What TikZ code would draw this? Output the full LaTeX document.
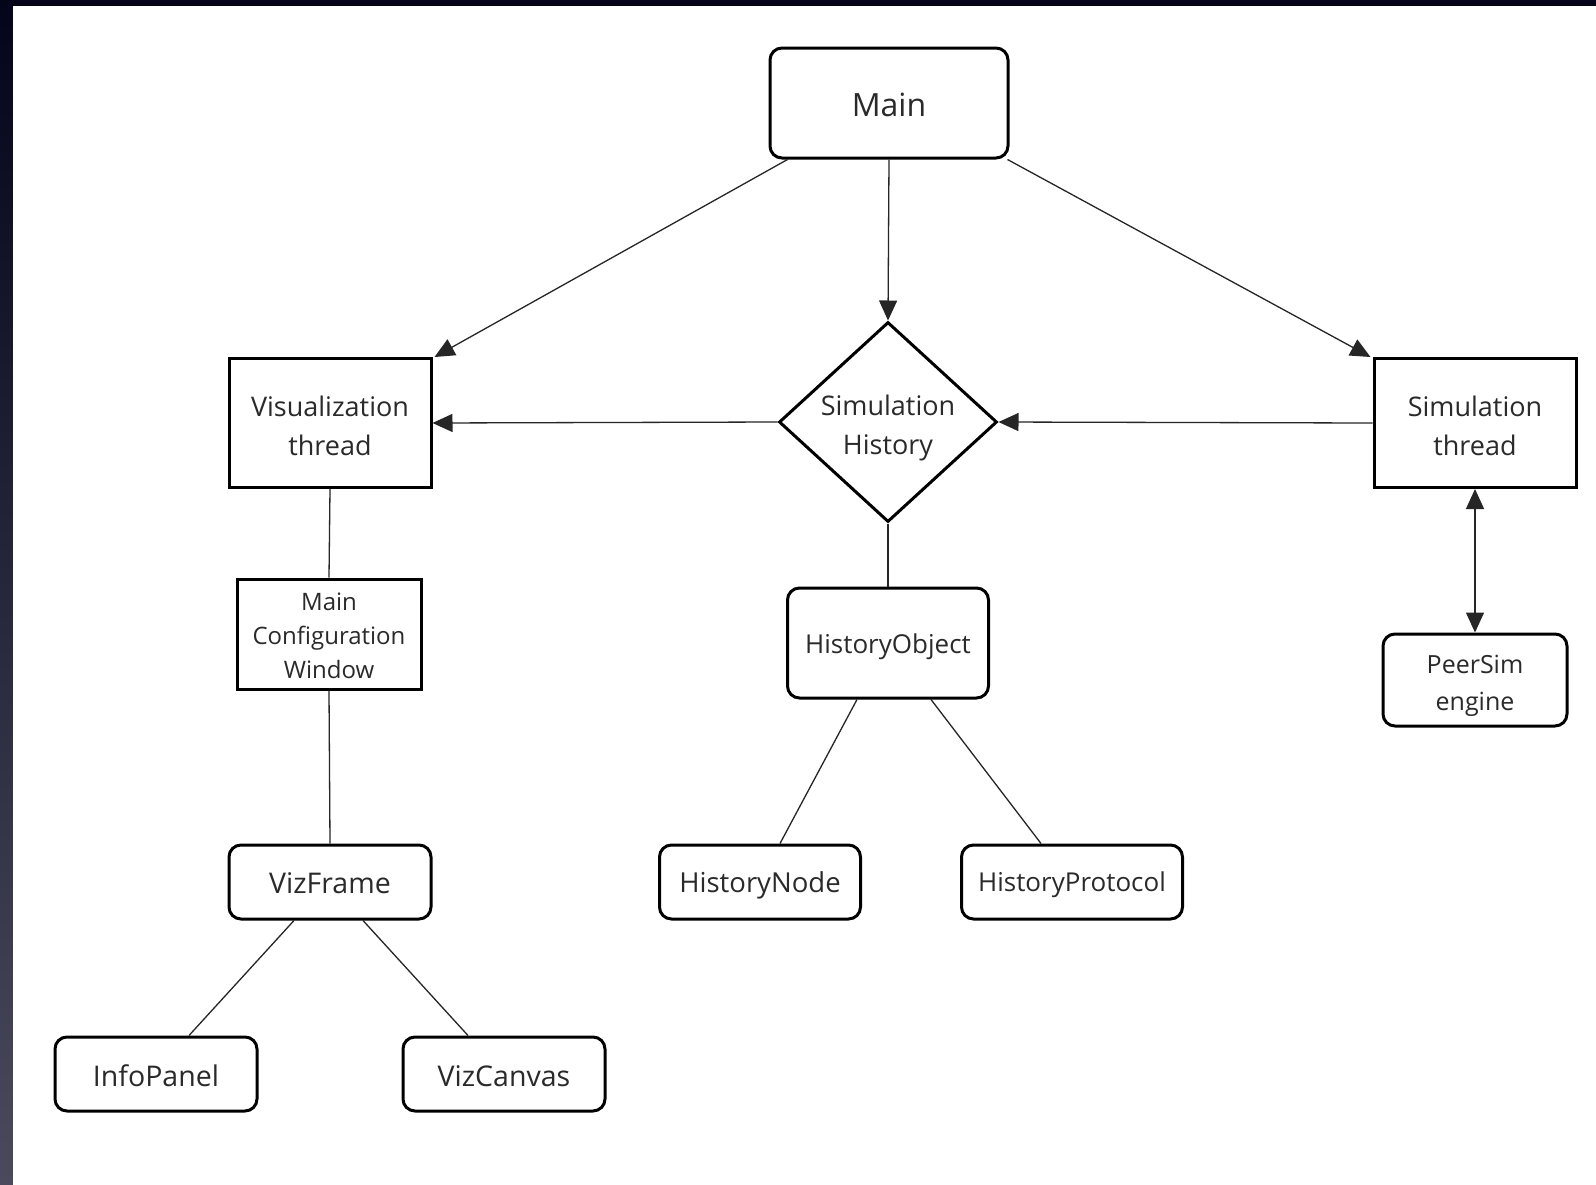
\documentclass[tikz,border=0pt]{standalone}
\usepackage{fontspec}
\setmainfont{Open Sans}
\usetikzlibrary{shapes.geometric,arrows.meta}
\definecolor{framedark}{HTML}{04041A}
\definecolor{framelow}{HTML}{4A4A5C}
\definecolor{txt}{HTML}{2A2A2A}
\newcommand{\topstrut}[1]{\rule{0pt}{#1}}
\begin{document}
\begin{tikzpicture}[x=1pt,y=-1pt,
  rbox/.style={draw=black,line width=3pt,rounded corners=12pt,fill=white,inner sep=0pt,align=center,text=txt},
  sbox/.style={draw=black,line width=3pt,fill=white,inner sep=0pt,align=center,text=txt},
  dbox/.style={draw=black,line width=3pt,diamond,fill=white,inner xsep=0pt,inner ysep=-10pt,align=center,text=txt},
  conn/.style={line width=1.3pt,draw=black!85},
  arr/.style={conn,-{Triangle[length=20pt,width=18pt]}},
  darr/.style={conn,{Triangle[length=20pt,width=18pt]}-{Triangle[length=20pt,width=18pt]}}
]
\useasboundingbox (0,0) rectangle (1596,1184);
\shade[top color=framedark,bottom color=framelow] (0,0) rectangle (1596,1184);
\fill[framedark] (0,0) rectangle (1596,6);
\fill[white] (13,6) rectangle (1610,1200);

\node[rbox,minimum width=238pt,minimum height=110pt,font=\fontsize{32}{38}\selectfont] (main) at (889,103) {\topstrut{0.86em}Main};
\node[sbox,minimum width=202pt,minimum height=129pt,font=\fontsize{27}{39}\selectfont] (vt) at (330,423) {\topstrut{1em}Visualization\\thread};
\node[dbox,minimum width=218pt,minimum height=200pt,font=\fontsize{27}{39}\selectfont] (sh) at (888,422) {\topstrut{1.2em}Simulation\\History};
\node[sbox,minimum width=202pt,minimum height=129pt,font=\fontsize{27}{39}\selectfont] (st) at (1475,423) {\topstrut{1em}Simulation\\thread};
\node[sbox,minimum width=184pt,minimum height=110pt,font=\fontsize{24}{34}\selectfont] (mcw) at (329,634) {\topstrut{0.88em}Main\\Configuration\\Window};
\node[rbox,minimum width=201pt,minimum height=110pt,font=\fontsize{26}{31}\selectfont] (ho) at (888,643) {\topstrut{1.07em}HistoryObject};
\node[rbox,minimum width=184pt,minimum height=92pt,font=\fontsize{25}{37}\selectfont] (ps) at (1475,680) {\topstrut{1.16em}PeerSim\\engine};
\node[rbox,minimum width=202pt,minimum height=74pt,font=\fontsize{28.5}{31}\selectfont] (vf) at (330,882) {\topstrut{0.83em}VizFrame};
\node[rbox,minimum width=201pt,minimum height=74pt,font=\fontsize{27.5}{31}\selectfont] (hn) at (760,882) {\topstrut{0.98em}HistoryNode};
\node[rbox,minimum width=221pt,minimum height=74pt,font=\fontsize{26}{31}\selectfont] (hp) at (1072,882) {\topstrut{0.99em}HistoryProtocol};
\node[rbox,minimum width=202pt,minimum height=74pt,font=\fontsize{28.5}{31}\selectfont] (ip) at (156,1074) {\topstrut{0.9em}InfoPanel};
\node[rbox,minimum width=202pt,minimum height=74pt,font=\fontsize{28.5}{31}\selectfont] (vc) at (504,1074) {\topstrut{0.9em}VizCanvas};

\draw[arr] ([xshift=19pt]main.south west) -- ([xshift=2pt]vt.north east);
\draw[arr] (main.south) -- (sh.north);
\draw[arr] ([xshift=-2pt]main.south east) -- ([xshift=-2pt]st.north west);
\draw[arr] (sh.west) -- (vt.east);
\draw[arr] (st.west) -- (sh.east);
\draw[darr] (st.south) -- (ps.north);
\draw[conn] (vt.south) -- (mcw.north);
\draw[conn] (mcw.south) -- (vf.north);
\draw[conn] (sh.south) -- (ho.north);
\draw[conn] ([xshift=-31pt]ho.south) -- ([xshift=20pt]hn.north);
\draw[conn] ([xshift=43pt]ho.south) -- ([xshift=-31pt]hp.north);
\draw[conn] ([xshift=-36pt]vf.south) -- ([xshift=33pt]ip.north);
\draw[conn] ([xshift=33pt]vf.south) -- ([xshift=-36pt]vc.north);
\end{tikzpicture}
\end{document}
